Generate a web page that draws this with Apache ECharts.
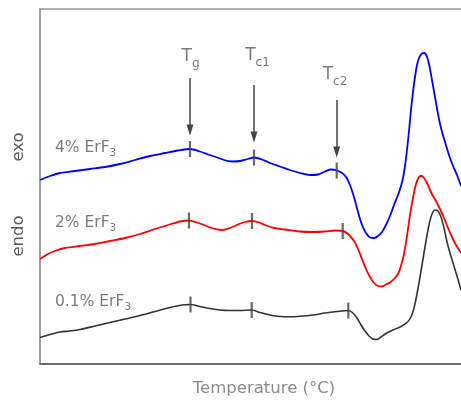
<!DOCTYPE html>
<html>
<head>
<meta charset="utf-8">
<script src="https://cdn.jsdelivr.net/npm/echarts@6/dist/echarts.min.js"></script>
<style>html,body{margin:0;padding:0;background:#fff}#c{width:461px;height:403px}</style>
</head>
<body>
<div id="c"></div>
<script>
// x: temperature (arbitrary units, no tick labels); y: heat flow (arbitrary units, exo up)
const blue4 = [[0,184],[10,188],[20,191],[35,193],[50,195],[65,197],[80,200],[95,204],[110,208],[125,211],[138,213.5],[150,215],[160,212.5],[168,209.5],[176,207],[184,204],[192,202.5],[200,203],[208,205],[214,206.5],[222,204.5],[230,201],[240,197.5],[250,194],[260,191],[270,189],[278,189.5],[285,192.5],[291,194.5],[297,193.5],[302,191],[306,187],[310,179],[314,167],[318,152],[322,139],[326,131],[330,126.5],[334,126],[338,128],[342,132],[346,139],[350,148],[354,159],[358,169],[361,178],[363,186],[365,198],[367,214],[369,233],[371,254],[373,272],[375,287],[377,299],[379,306],[382,310.5],[384.5,311],[387,307],[389,300],[392,284],[395,267],[398,250],[401,236],[405,222],[409,209],[413,198],[417,189],[421,178]];
const red2 = [[0,105],[8,110],[16,113.5],[25,116],[40,118],[55,120],[70,123],[85,126],[100,130],[115,135],[128,139],[140,142.5],[149,143.5],[157,141.5],[165,138.5],[173,135.5],[182,134],[190,136],[198,139.5],[205,142],[212,143],[219,141.5],[226,138.5],[234,136],[245,134.5],[260,132.5],[273,132],[285,132.5],[295,133.5],[303,133],[309,129],[314,123],[318,115],[322,105],[326,95],[330,87],[334,81],[338,78],[342,77.5],[346,79.5],[350,81.5],[354,85],[358,90],[361,98],[364,110],[367,128],[370,149],[373,166],[376,180],[379,187],[381.7,188],[384,186],[387,181],[390,174],[393,168],[396,163],[400,155],[404,146],[408,136],[412,127],[416,119],[421,111]];
const black01 = [[0,26.5],[10,29.5],[20,32],[30,33],[40,34.5],[55,38],[70,41.5],[85,45],[100,48.5],[115,52.5],[130,56.5],[142,59],[150.5,59.5],[160,57.5],[170,55.5],[180,54],[190,53.5],[200,53.5],[211.7,54],[220,51.5],[230,49],[240,47.5],[250,47.2],[260,47.7],[273,49],[285,51],[297,52.5],[308.3,53.5],[313,51],[317,46],[321,39],[325,33],[329,28],[333,25],[337,24.5],[341,27],[346,30.5],[353,34],[361,37.5],[367,41.5],[371,47],[374,56],[377,70],[380,87],[383,105],[386,123],[389,139],[392,150],[395,154],[398,153],[401,147],[404,136],[407,122],[410,111],[413,101],[417,88],[421,74]];
// characteristic temperatures marked on each curve: [x, y]
const ticksBlue = [[150,215],[214,206.5],[296.7,193.5]];
const ticksRed = [[149,143.5],[212,143],[302.7,133]];
const ticksBlack = [[150.5,59.5],[211.7,54],[308.3,53.5]];
// arrows: [x, yStart, yTip] and their labels [x, y, main, sub]
const arrows = [[150,286,234],[214,279,227],[296.7,264,212]];
const arrowLabels = [[150.5,307,'T','g'],[217.5,308,'T','c1'],[295,289,'T','c2']];
// series names placed next to curves: [x, y, text, sub]
const seriesLabels = [[15,216,'4% ErF','3'],[15,141,'2% ErF','3'],[15,62,'0.1% ErF','3']];

const FONT = '"DejaVu Sans", sans-serif';
const TXT = '#5a5a5a';
const chart = echarts.init(document.getElementById('c'), null, {renderer:'canvas'});

function curve(name, data, color, w){
  return {name, type:'line', data, smooth:0.3, symbol:'none', lineStyle:{color, width:w}, z:3, silent:true};
}
function ticks(data){
  return {type:'scatter', data, symbol:'rect', symbolSize:[2.2,16], itemStyle:{color:'#444'}, z:4, silent:true};
}
const richSub = {
  b:{fontSize:17, fontFamily:FONT, color:TXT, lineHeight:26},
  s:{fontSize:12, fontFamily:FONT, color:TXT, verticalAlign:'bottom'}
};
const richName = {
  b:{fontSize:15.5, fontFamily:FONT, color:TXT, lineHeight:22},
  s:{fontSize:10.5, fontFamily:FONT, color:TXT, verticalAlign:'bottom'}
};

chart.setOption({
  animation:false,
  backgroundColor:'#fff',
  grid:{left:40, top:9, right:-20, bottom:39, show:true, borderColor:'#999', borderWidth:1.5,
    containLabel:false, outerBoundsMode:'none'},
  xAxis:{type:'value', min:0, max:441, name:'Temperature (°C)', nameLocation:'middle', nameGap:16,
    nameTextStyle:{fontSize:16.5, fontFamily:FONT, color:'#8a8a8a', padding:[0,0,0,7]},
    axisLine:{show:true, lineStyle:{color:'#555', width:1.5}}, axisTick:{show:false}, axisLabel:{show:false}, splitLine:{show:false}},
  yAxis:{type:'value', min:0, max:355,
    axisLine:{show:true, lineStyle:{color:'#999', width:1.5}}, axisTick:{show:false}, axisLabel:{show:false}, splitLine:{show:false}},
  graphic:[
    {type:'text', x:19, y:147, rotation:Math.PI/2, style:{text:'exo', font:'16.5px '+FONT, fill:TXT, textAlign:'center', textVerticalAlign:'middle'}},
    {type:'text', x:19, y:236, rotation:Math.PI/2, style:{text:'endo', font:'16.5px '+FONT, fill:TXT, textAlign:'center', textVerticalAlign:'middle'}}
  ],
  series:[
    curve('0.1% ErF3', black01, '#333', 1.6),
    curve('2% ErF3', red2, '#ff0000', 1.8),
    curve('4% ErF3', blue4, '#0000ff', 1.8),
    ticks(ticksBlack), ticks(ticksRed), ticks(ticksBlue),
    {type:'line', data:[], silent:true,
      markLine:{silent:true, symbol:['none','triangle'], symbolSize:[7,11], animation:false,
        lineStyle:{color:'#444', width:1.5, type:'solid'}, label:{show:false},
        data: arrows.map(a => [{coord:[a[0],a[1]]},{coord:[a[0],a[2]]}])}},
    {type:'scatter', symbolSize:0, silent:true, data: arrowLabels.map(l => ({value:[l[0],l[1]], t:l[2], s:l[3]})),
      label:{show:true, position:'inside', formatter:p => '{b|'+p.data.t+'}{s|'+p.data.s+'}', rich:richSub}},
    {type:'scatter', symbolSize:0, silent:true, data: seriesLabels.map(l => ({value:[l[0],l[1]], t:l[2], s:l[3]})),
      label:{show:true, position:'right', distance:0, formatter:p => '{b|'+p.data.t+'}{s|'+p.data.s+'}', rich:richName}}
  ]
});
</script>
</body>
</html>
